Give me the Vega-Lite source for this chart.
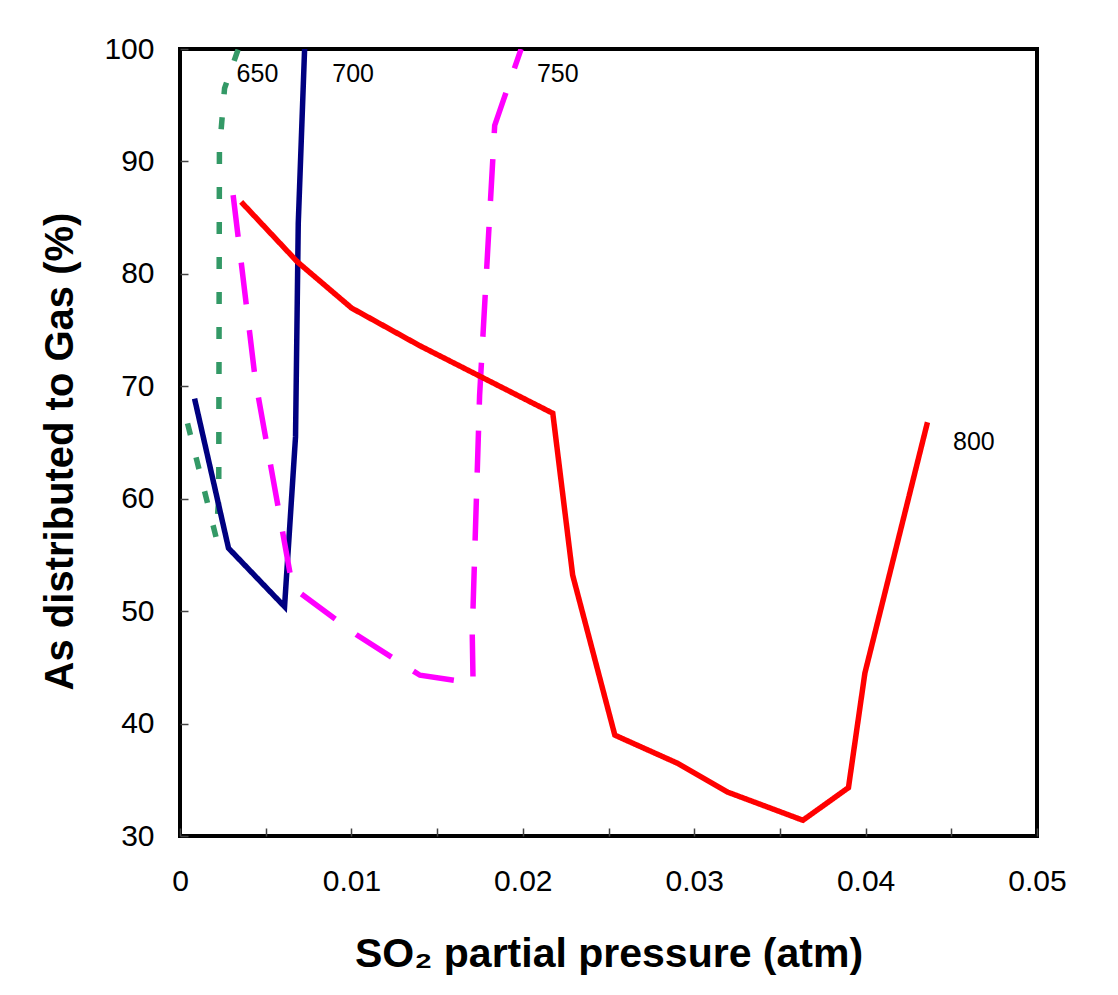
{
  "$schema": "https://vega.github.io/schema/vega-lite/v6.json",
  "width": 857,
  "height": 787,
  "autosize": {"type": "none"},
  "padding": {"left": 180, "top": 49, "right": 81, "bottom": 159},
  "background": "white",
  "config": {
    "view": {"stroke": "black", "strokeWidth": 4},
    "font": "Liberation Sans"
  },
  "datasets": {
    "curves": [
      {"s": "650", "i": 0, "x": 0.00044, "y": 66.7},
      {"s": "650", "i": 1, "x": 0.0021, "y": 56.6},
      {"s": "650", "i": 2, "x": 0.00226, "y": 60.0},
      {"s": "650", "i": 3, "x": 0.0023, "y": 91.0},
      {"s": "650", "i": 4, "x": 0.0026, "y": 96.5},
      {"s": "650", "i": 5, "x": 0.0034, "y": 100.0},
      {"s": "700", "i": 0, "x": 0.00085, "y": 68.9},
      {"s": "700", "i": 1, "x": 0.00283, "y": 55.6},
      {"s": "700", "i": 2, "x": 0.0061, "y": 50.4},
      {"s": "700", "i": 3, "x": 0.00674, "y": 65.5},
      {"s": "700", "i": 4, "x": 0.0069, "y": 84.5},
      {"s": "700", "i": 5, "x": 0.00727, "y": 100.0},
      {"s": "750", "i": 0, "x": 0.0031, "y": 87.0},
      {"s": "750", "i": 1, "x": 0.0044, "y": 70.5},
      {"s": "750", "i": 2, "x": 0.00657, "y": 52.1},
      {"s": "750", "i": 3, "x": 0.0103, "y": 47.9},
      {"s": "750", "i": 4, "x": 0.014, "y": 44.3},
      {"s": "750", "i": 5, "x": 0.0171, "y": 43.6},
      {"s": "750", "i": 6, "x": 0.01705, "y": 48.0},
      {"s": "750", "i": 7, "x": 0.01748, "y": 69.2},
      {"s": "750", "i": 8, "x": 0.01836, "y": 93.2},
      {"s": "750", "i": 9, "x": 0.0199, "y": 100.0},
      {"s": "800", "i": 0, "x": 0.00357, "y": 86.4},
      {"s": "800", "i": 1, "x": 0.00686, "y": 81.05},
      {"s": "800", "i": 2, "x": 0.01001, "y": 76.96},
      {"s": "800", "i": 3, "x": 0.014, "y": 73.6},
      {"s": "800", "i": 4, "x": 0.02175, "y": 67.6},
      {"s": "800", "i": 5, "x": 0.02291, "y": 53.2},
      {"s": "800", "i": 6, "x": 0.02537, "y": 38.97},
      {"s": "800", "i": 7, "x": 0.02898, "y": 36.5},
      {"s": "800", "i": 8, "x": 0.03196, "y": 33.9},
      {"s": "800", "i": 9, "x": 0.03634, "y": 31.4},
      {"s": "800", "i": 10, "x": 0.039, "y": 34.3},
      {"s": "800", "i": 11, "x": 0.03996, "y": 44.5},
      {"s": "800", "i": 12, "x": 0.04361, "y": 66.8}
    ],
    "labels": [
      {"t": "650", "x": 0.00452, "y": 97.04},
      {"t": "700", "x": 0.0101, "y": 97.04},
      {"t": "750", "x": 0.02204, "y": 97.04},
      {"t": "800", "x": 0.04632, "y": 64.32}
    ]
  },
  "layer": [
    {
      "data": {"name": "curves"},
      "mark": {"type": "line", "clip": true, "strokeCap": "butt", "strokeJoin": "miter", "strokeWidth": 5.5},
      "encoding": {
        "x": {
          "field": "x", "type": "quantitative",
          "scale": {"domain": [0, 0.05], "nice": false, "zero": false},
          "axis": {
            "values": [0, 0.005, 0.01, 0.015, 0.02, 0.025, 0.03, 0.035, 0.04, 0.045, 0.05],
            "format": ".2~f",
            "labelExpr": "(round(datum.value * 1000) % 10 == 0) ? datum.label : ''",
            "domain": false, "grid": false,
            "tickSize": -8, "tickColor": "#444", "tickWidth": 1.5,
            "labelFontSize": 30, "labelColor": "black", "labelPadding": 38,
            "labelFlush": false, "labelOverlap": false, "labelBound": false,
            "title": "SO₂ partial pressure (atm)",
            "titleFontSize": 41, "titleFontWeight": "bold", "titleColor": "black",
            "titleBaseline": "alphabetic", "titleY": 130
          }
        },
        "y": {
          "field": "y", "type": "quantitative",
          "scale": {"domain": [30, 100], "nice": false, "zero": false},
          "axis": {
            "values": [30, 40, 50, 60, 70, 80, 90, 100],
            "domain": false, "grid": false,
            "tickSize": -8, "tickColor": "#444", "tickWidth": 1.5,
            "labelFontSize": 30, "labelColor": "black", "labelPadding": 34,
            "labelFlush": false, "labelOverlap": false, "labelBound": false,
            "title": "As distributed to Gas (%)",
            "titleFontSize": 40, "titleFontWeight": "bold", "titleColor": "black",
            "titleBaseline": "alphabetic", "titleX": -108, "titleY": 402
          }
        },
        "color": {
          "field": "s", "type": "nominal",
          "scale": {"domain": ["650", "700", "750", "800"], "range": ["#339966", "#000080", "#FF00FF", "#FF0000"]},
          "legend": null
        },
        "strokeDash": {
          "field": "s", "type": "nominal",
          "scale": {"domain": ["650", "700", "750", "800"], "range": [[12, 23], [1, 0], [42, 26], [1, 0]]},
          "legend": null
        },
        "order": {"field": "i", "type": "quantitative"}
      }
    },
    {
      "data": {"name": "labels"},
      "mark": {"type": "text", "fontSize": 25, "baseline": "alphabetic", "align": "center", "color": "black", "font": "Liberation Sans"},
      "encoding": {
        "x": {"field": "x", "type": "quantitative"},
        "y": {"field": "y", "type": "quantitative"},
        "text": {"field": "t"}
      }
    }
  ]
}
